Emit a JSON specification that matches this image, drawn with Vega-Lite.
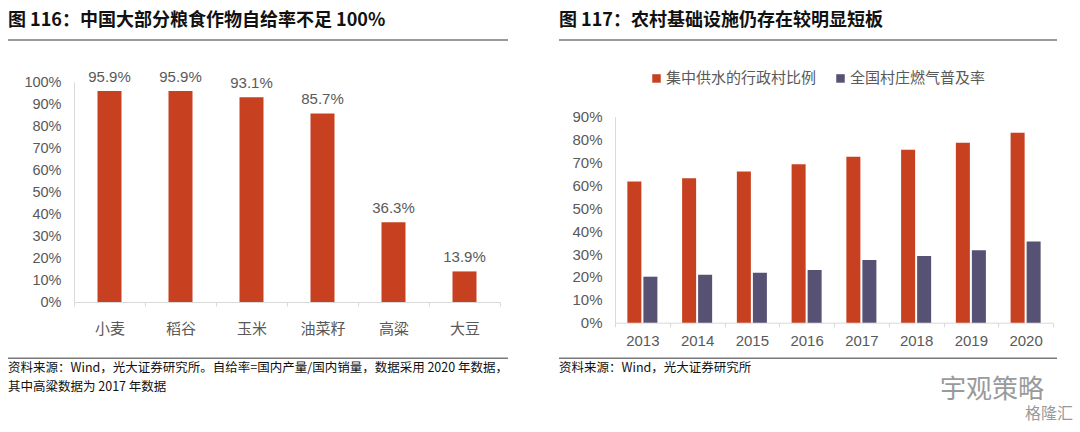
{
  "$schema": "https://vega.github.io/schema/vega-lite/v6.json",
  "padding": {"left": 7, "top": 12, "right": 4, "bottom": 8},
  "background": "white",
  "config": {
    "view": {"stroke": null},
    "axis": {"domainColor": "#d9d9d9", "tickColor": "#d9d9d9", "labelColor": "#595959", "title": null, "grid": false}
  },
  "columns": 2,
  "spacing": {"row": 0, "column": 51},
  "bounds": "flush",
  "align": "each",
  "resolve": {"scale": {"color": "independent"}, "legend": {"color": "independent"}},
  "concat": [
    {
      "width": 500,
      "height": 42,
      "title": {"text": "图 116：中国大部分粮食作物自给率不足 100%", "anchor": "start", "frame": "group", "orient": "top", "offset": 9, "fontSize": 18, "fontWeight": "bold", "font": "Noto Sans CJK SC", "color": "#111111"},
      "data": {"values": [{"part": "header"}]},
      "mark": {"type": "rule", "color": "#7a7a7a", "strokeWidth": 1.5},
      "encoding": {"y": {"datum": 1, "type": "quantitative", "scale": {"domain": [0, 1]}, "axis": null}}
    },
    {
      "width": 498,
      "height": 42,
      "title": {"text": "图 117：农村基础设施仍存在较明显短板", "anchor": "start", "frame": "group", "orient": "top", "offset": 9, "fontSize": 18, "fontWeight": "bold", "font": "Noto Sans CJK SC", "color": "#111111"},
      "data": {"values": [{"part": "header"}]},
      "mark": {"type": "rule", "color": "#7a7a7a", "strokeWidth": 1.5},
      "encoding": {"y": {"datum": 1, "type": "quantitative", "scale": {"domain": [0, 1]}, "axis": null}}
    },
    {
      "width": 500,
      "height": 240.7,
      "title": {"text": "格隆汇", "orient": "bottom", "anchor": "end", "frame": "group", "offset": 70, "dx": 565, "fontSize": 16, "font": "Noto Sans CJK SC", "fontWeight": "normal", "color": "#9a9a9a"},
      "data": {"values": [
        {"crop": "小麦", "value": 0.959},
        {"crop": "稻谷", "value": 0.959},
        {"crop": "玉米", "value": 0.931},
        {"crop": "油菜籽", "value": 0.857},
        {"crop": "高粱", "value": 0.363},
        {"crop": "大豆", "value": 0.139}
      ]},
      "encoding": {
        "x": {"field": "crop", "type": "nominal", "sort": null,
          "scale": {"range": [66, 492], "paddingInner": 0, "paddingOuter": 0},
          "axis": {"labelAngle": 0, "tickBand": "extent", "ticks": true, "tickSize": 4, "labelPadding": 15, "labelFontSize": 15, "labelFont": "Noto Sans CJK SC", "offset": -20.7}},
        "y": {"field": "value", "type": "quantitative", "scale": {"domain": [0, 1], "range": [220, 0]},
          "axis": {"format": ".0%", "values": [0, 0.1, 0.2, 0.3, 0.4, 0.5, 0.6, 0.7, 0.8, 0.9, 1], "offset": -66, "ticks": false, "labelPadding": 13, "labelFontSize": 14.5, "labelFont": "Liberation Sans"}}
      },
      "layer": [
        {"mark": {"type": "bar", "color": "#C74120", "width": {"band": 0.338}}},
        {"mark": {"type": "text", "baseline": "alphabetic", "dy": -9, "fontSize": 15, "color": "#595959", "font": "Liberation Sans"},
         "encoding": {"text": {"field": "value", "type": "quantitative", "format": ".1%"}}}
      ]
    },
    {
      "width": 498,
      "height": 240.7,
      "title": {"text": "宇观策略", "orient": "bottom", "anchor": "end", "frame": "group", "offset": 28, "dx": -13, "fontSize": 26, "font": "Noto Sans CJK SC", "fontWeight": "normal", "color": "#9a9a9a"},
      "data": {"values": [
        {"year": "2013", "series": "集中供水的行政村比例", "value": 0.617},
        {"year": "2014", "series": "集中供水的行政村比例", "value": 0.631},
        {"year": "2015", "series": "集中供水的行政村比例", "value": 0.661},
        {"year": "2016", "series": "集中供水的行政村比例", "value": 0.692},
        {"year": "2017", "series": "集中供水的行政村比例", "value": 0.725},
        {"year": "2018", "series": "集中供水的行政村比例", "value": 0.756},
        {"year": "2019", "series": "集中供水的行政村比例", "value": 0.786},
        {"year": "2020", "series": "集中供水的行政村比例", "value": 0.830},
        {"year": "2013", "series": "全国村庄燃气普及率", "value": 0.201},
        {"year": "2014", "series": "全国村庄燃气普及率", "value": 0.210},
        {"year": "2015", "series": "全国村庄燃气普及率", "value": 0.218},
        {"year": "2016", "series": "全国村庄燃气普及率", "value": 0.230},
        {"year": "2017", "series": "全国村庄燃气普及率", "value": 0.274},
        {"year": "2018", "series": "全国村庄燃气普及率", "value": 0.291},
        {"year": "2019", "series": "全国村庄燃气普及率", "value": 0.317},
        {"year": "2020", "series": "全国村庄燃气普及率", "value": 0.355}
      ]},
      "mark": {"type": "bar"},
      "encoding": {
        "x": {"field": "year", "type": "nominal",
          "scale": {"range": [56, 494], "paddingInner": 0, "paddingOuter": 0},
          "axis": {"labelAngle": 0, "tickBand": "extent", "ticks": true, "tickSize": 4, "labelPadding": 7, "labelFontSize": 15, "labelFont": "Liberation Sans"}},
        "xOffset": {"field": "series", "type": "nominal", "sort": ["集中供水的行政村比例", "全国村庄燃气普及率"],
          "scale": {"paddingInner": 0.125, "paddingOuter": 0.772}},
        "y": {"field": "value", "type": "quantitative", "scale": {"domain": [0, 0.9], "range": [240.7, 34.7]},
          "axis": {"format": ".0%", "values": [0, 0.1, 0.2, 0.3, 0.4, 0.5, 0.6, 0.7, 0.8, 0.9], "offset": -56, "ticks": false, "labelPadding": 13, "labelFontSize": 15, "labelFont": "Liberation Sans"}},
        "color": {"field": "series", "type": "nominal", "sort": ["集中供水的行政村比例", "全国村庄燃气普及率"],
          "scale": {"domain": ["集中供水的行政村比例", "全国村庄燃气普及率"], "range": ["#C74120", "#575173"]},
          "legend": {"title": null, "orient": "none", "legendX": 90, "legendY": -11.3, "direction": "horizontal", "symbolType": "square", "symbolSize": 72, "symbolStrokeWidth": 0, "labelFontSize": 15, "labelColor": "#595959", "labelFont": "Noto Sans CJK SC", "columnPadding": 16, "labelOffset": 2}}
      }
    },
    {
      "width": 500,
      "height": 35.3,
      "title": {"text": ["资料来源：Wind，光大证券研究所。自给率=国内产量/国内销量，数据采用 2020 年数据，", "其中高粱数据为 2017 年数据"], "anchor": "start", "frame": "group", "orient": "bottom", "offset": 3, "fontSize": 12.5, "lineHeight": 19, "fontWeight": "normal", "font": "Noto Sans CJK SC", "color": "#111111"},
      "data": {"values": [{"part": "footer"}]},
      "mark": {"type": "rule", "color": "#7a7a7a", "strokeWidth": 1.5},
      "encoding": {"y": {"datum": 0, "type": "quantitative", "scale": {"domain": [0, 1]}, "axis": null}}
    },
    {
      "width": 498,
      "height": 35.3,
      "title": {"text": "资料来源：Wind，光大证券研究所", "anchor": "start", "frame": "group", "orient": "bottom", "offset": 3, "fontSize": 12.5, "fontWeight": "normal", "font": "Noto Sans CJK SC", "color": "#111111"},
      "data": {"values": [{"part": "footer"}]},
      "mark": {"type": "rule", "color": "#7a7a7a", "strokeWidth": 1.5},
      "encoding": {"y": {"datum": 0, "type": "quantitative", "scale": {"domain": [0, 1]}, "axis": null}}
    }
  ]
}
